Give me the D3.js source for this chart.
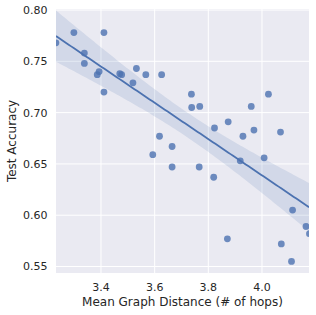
<!DOCTYPE html>
<html><head><meta charset="utf-8">
<script src="https://cdn.jsdelivr.net/npm/d3@7"></script>
<style>body{margin:0;background:#fff;} svg{display:block;}</style>
</head><body>
<script>
const meanDistance = [3.232,3.299,3.411,3.338,3.338,3.386,3.393,3.411,3.470,3.477,3.532,3.519,3.567,3.626,3.593,3.618,3.737,3.738,3.768,3.665,3.823,3.874,3.929,3.960,3.970,4.024,4.069,4.008,3.665,3.766,3.820,3.919,4.114,4.164,4.177,3.871,4.072,4.110];
const testAccuracy = [0.768,0.778,0.778,0.758,0.748,0.737,0.740,0.720,0.738,0.737,0.743,0.729,0.737,0.737,0.659,0.677,0.718,0.705,0.706,0.667,0.685,0.691,0.677,0.706,0.683,0.718,0.681,0.656,0.647,0.647,0.637,0.653,0.605,0.589,0.582,0.577,0.572,0.555];
const xTicks = [3.4,3.6,3.8,4.0];
const yTicks = [0.55,0.60,0.65,0.70,0.75,0.80];
const xLabel = "Mean Graph Distance (# of hops)";
const yLabel = "Test Accuracy";

const W = 316, H = 315;
const m = {left:56, right:7, top:9, bottom:42};
const pw = W - m.left - m.right, ph = H - m.top - m.bottom;
const svg = d3.select("body").append("svg").attr("width",W).attr("height",H);
const g = svg.append("g").attr("transform",`translate(${m.left},${m.top})`);

const x = d3.scaleLinear().domain([3.2323,4.1752]).range([0,pw]);
const y = d3.scaleLinear().domain([0.5437,0.801]).range([ph,0]);

g.append("rect").attr("width",pw).attr("height",ph).attr("fill","#EAEAF2");
g.append("defs").append("clipPath").attr("id","clip").append("rect").attr("width",pw).attr("height",ph);

g.selectAll(".gx").data(xTicks).join("line").attr("x1",d=>x(d)).attr("x2",d=>x(d)).attr("y1",0).attr("y2",ph).attr("stroke","#fff").attr("stroke-width",1);
g.selectAll(".gy").data(yTicks).join("line").attr("y1",d=>y(d)).attr("y2",d=>y(d)).attr("x1",0).attr("x2",pw).attr("stroke","#fff").attr("stroke-width",1);

// regression
const data = meanDistance.map((d,i)=>({x:d,y:testAccuracy[i]}));
const n = data.length;
const mx = d3.mean(data,d=>d.x), my = d3.mean(data,d=>d.y);
const sxx = d3.sum(data,d=>(d.x-mx)**2), sxy = d3.sum(data,d=>(d.x-mx)*(d.y-my));
const b = sxy/sxx, a = my - b*mx;
const s = Math.sqrt(d3.sum(data,d=>(d.y-(a+b*d.x))**2)/(n-2));
const t = 2.028;
const xs = d3.range(0,101).map(i=>x.domain()[0]+(x.domain()[1]-x.domain()[0])*i/100);
const band = xs.map(v=>{const yh=a+b*v; const se=s*Math.sqrt(1/n+(v-mx)**2/sxx); return {x:v,lo:yh-t*se,hi:yh+t*se,y:yh};});

const cg = g.append("g").attr("clip-path","url(#clip)");
cg.append("path").datum(band).attr("d",d3.area().x(d=>x(d.x)).y0(d=>y(d.lo)).y1(d=>y(d.hi)))
  .attr("fill","#4C72B0").attr("fill-opacity",0.15);
cg.selectAll("circle").data(data).join("circle").attr("cx",d=>x(d.x)).attr("cy",d=>y(d.y)).attr("r",3.4)
  .attr("fill","#4C72B0").attr("fill-opacity",0.8);
cg.append("path").datum(band).attr("d",d3.line().x(d=>x(d.x)).y(d=>y(d.y)))
  .attr("fill","none").attr("stroke","#4C72B0").attr("stroke-width",1.8);

const font = "DejaVu Sans";
g.selectAll(".xt").data(xTicks).join("text").attr("x",d=>x(d)).attr("y",ph+18).attr("text-anchor","middle")
  .attr("font-family",font).attr("font-size",11).attr("fill","#262626").text(d=>d.toFixed(1));
g.selectAll(".yt").data(yTicks).join("text").attr("x",-8.5).attr("y",d=>y(d)).attr("dy","0.36em").attr("text-anchor","end")
  .attr("font-family",font).attr("font-size",11).attr("fill","#262626").text(d=>d.toFixed(2));
svg.append("text").attr("x",m.left+pw/2).attr("y",306).attr("text-anchor","middle")
  .attr("font-family",font).attr("font-size",12).attr("fill","#262626").text(xLabel);
svg.append("text").attr("transform",`translate(15.5,${m.top+ph/2}) rotate(-90)`).attr("text-anchor","middle")
  .attr("font-family",font).attr("font-size",12).attr("fill","#262626").text(yLabel);
</script>
</body></html>
